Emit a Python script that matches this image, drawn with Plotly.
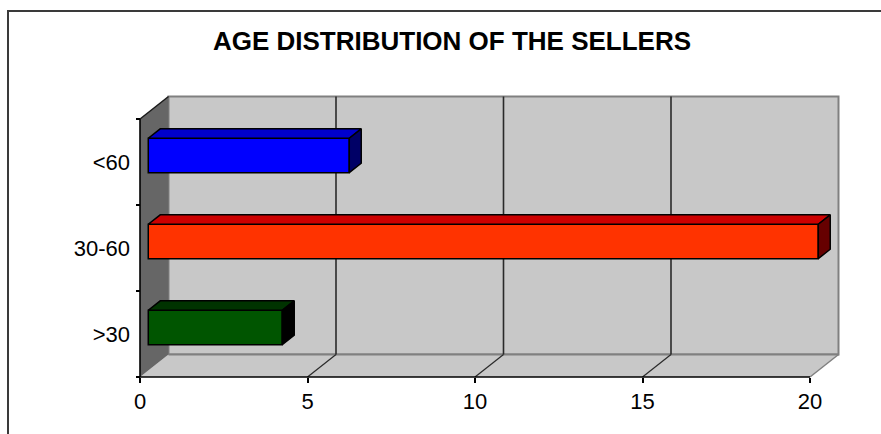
import plotly.graph_objects as go

# ---- data ----
categories = [">30", "30-60", "<60"]
sellers = [4, 20, 6]
x_ticks = [0, 5, 10, 15, 20]

front_colors = ["#005500", "#FF3300", "#0000FF"]
top_colors = ["#003300", "#CC0000", "#0000CC"]
side_colors = ["#000000", "#660000", "#000066"]

# ---- geometry of the pseudo-3D box (pixels -> axis units) ----
W, H = 881, 434
ORIGIN_X, ORIGIN_Y = 140, 377          # pixel position of (0, 0) on the front plane
X_PX = 33.5                            # pixels per unit of value
Y_PX = 86.0                            # pixels per category band
PLOT_L, PLOT_R, PLOT_T, PLOT_B = 130, 850, 90, 387
DX = 28.5 / X_PX                       # depth offset of the back wall, x units
DY = 22.5 / Y_PX                       # depth offset of the back wall, y units
BAR_FRONT, BAR_BACK = 0.29, 0.71       # bar depth as a fraction of the box depth
BAR_HALF = 0.2
X_MAX = x_ticks[-1]
N = len(categories)

x_range = [(PLOT_L - ORIGIN_X) / X_PX, (PLOT_R - ORIGIN_X) / X_PX]
y_range = [(ORIGIN_Y - PLOT_B) / Y_PX, (ORIGIN_Y - PLOT_T) / Y_PX]

WALL = "#C8C8C8"
SIDE_WALL = "#666666"
EDGE = "#808080"
GRID = "#2A2A2A"

shapes = []


def line(x0, y0, x1, y1, color, width):
    shapes.append(dict(type="line", xref="x", yref="y", x0=x0, y0=y0, x1=x1, y1=y1,
                       line=dict(color=color, width=width), layer="below"))


def poly(pts, fill, color=None, width=0):
    path = "M " + " L ".join(f"{x},{y}" for x, y in pts) + " Z"
    shapes.append(dict(type="path", xref="x", yref="y", path=path, fillcolor=fill,
                       line=dict(color=color or fill, width=width), layer="below"))


# back wall
poly([(DX, DY), (X_MAX + DX, DY), (X_MAX + DX, N + DY), (DX, N + DY)], WALL, EDGE, 2)
# floor
poly([(0, 0), (X_MAX, 0), (X_MAX + DX, DY), (DX, DY)], WALL)
line(X_MAX, 0, X_MAX + DX, DY, EDGE, 1.5)
line(DX, DY, X_MAX + DX, DY, EDGE, 2)
# left side wall
poly([(0, 0), (0, N), (DX, N + DY), (DX, DY)], SIDE_WALL)
line(0, N, DX, N + DY, "#1A1A1A", 1.5)
# gridlines on back wall and floor
for t in x_ticks[1:-1]:
    line(t + DX, DY, t + DX, N + DY, GRID, 1.6)
    line(t, 0, t + DX, DY, GRID, 1.2)
# axis lines on the front plane
line(0, 0, 0, N, "#000000", 1.6)
line(0, 0, X_MAX, 0, "#000000", 1.6)

# outer chart frame (paper coordinates)
def px_to_paper_x(px):
    return (px - PLOT_L) / (PLOT_R - PLOT_L)


def px_to_paper_y(py):
    return (PLOT_B - py) / (PLOT_B - PLOT_T)


shapes.append(dict(type="rect", xref="paper", yref="paper",
                   x0=px_to_paper_x(8), x1=px_to_paper_x(W + 20),
                   y0=px_to_paper_y(H + 20), y1=px_to_paper_y(11),
                   line=dict(color="#3A3A3A", width=2), fillcolor="rgba(0,0,0,0)",
                   layer="below"))

fig = go.Figure()

centers = [i + 0.5 for i in range(N)]
f_dx, f_dy = BAR_FRONT * DX, BAR_FRONT * DY
b_dx, b_dy = BAR_BACK * DX, BAR_BACK * DY

# front faces of the bars
fig.add_trace(go.Bar(
    orientation="h",
    y=[c + f_dy for c in centers],
    x=sellers,
    base=f_dx,
    width=2 * BAR_HALF,
    marker=dict(color=front_colors, line=dict(color="#000000", width=1.5)),
    hoverinfo="skip",
))

# top and side faces of the bars
for c, v, tc, sc in zip(centers, sellers, top_colors, side_colors):
    top = c + BAR_HALF
    bot = c - BAR_HALF
    fig.add_trace(go.Scatter(
        x=[f_dx, v + f_dx, v + b_dx, b_dx, f_dx],
        y=[top + f_dy, top + f_dy, top + b_dy, top + b_dy, top + f_dy],
        mode="lines", fill="toself", fillcolor=tc,
        line=dict(color="#000000", width=1.5), hoverinfo="skip"))
    fig.add_trace(go.Scatter(
        x=[v + f_dx, v + b_dx, v + b_dx, v + f_dx, v + f_dx],
        y=[bot + f_dy, bot + b_dy, top + b_dy, top + f_dy, bot + f_dy],
        mode="lines", fill="toself", fillcolor=sc,
        line=dict(color="#000000", width=1.5), hoverinfo="skip"))

tick_font = dict(family="Arial, Liberation Sans, sans-serif", size=22, color="#000000")

fig.update_layout(
    width=W, height=H,
    margin=dict(l=PLOT_L, r=W - PLOT_R, t=PLOT_T, b=H - PLOT_B, pad=0),
    paper_bgcolor="#FFFFFF",
    plot_bgcolor="rgba(0,0,0,0)",
    showlegend=False,
    shapes=shapes,
    title=dict(
        text="AGE DISTRIBUTION OF THE SELLERS",
        x=452 / W, xref="container", xanchor="center",
        y=1 - 41 / H, yref="container", yanchor="middle",
        font=dict(family="Arial, Liberation Sans, sans-serif",
                  size=26, color="#000000", weight="bold"),
    ),
    xaxis=dict(
        range=x_range, showgrid=False, zeroline=False, showline=False,
        tickmode="array", tickvals=x_ticks, ticktext=[str(t) for t in x_ticks],
        ticks="outside", ticklen=5, tickwidth=1.5, tickcolor="#000000",
        tickfont=tick_font, anchor="free", position=px_to_paper_y(ORIGIN_Y),
        fixedrange=True,
    ),
    yaxis=dict(
        range=y_range, showgrid=False, zeroline=False, showline=False,
        tickmode="array", tickvals=centers, ticktext=categories,
        ticks="", ticklabelstandoff=10,
        minor=dict(tickmode="array", tickvals=list(range(N + 1)), ticks="outside",
                   ticklen=4, tickwidth=1.5, tickcolor="#000000", showgrid=False),
        tickfont=tick_font, anchor="free", position=px_to_paper_x(ORIGIN_X),
        fixedrange=True,
    ),
)

fig.write_html("out.html")
